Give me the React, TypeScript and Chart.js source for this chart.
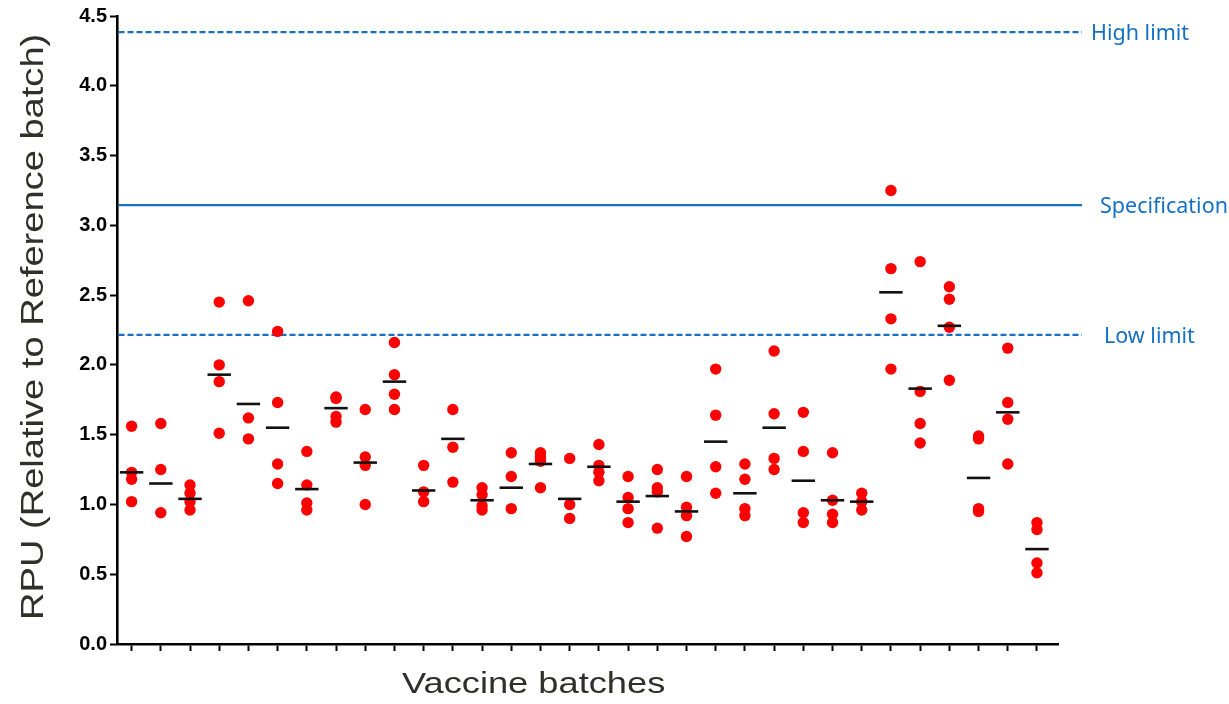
import React, { useEffect, useRef } from 'react';
import { Chart, registerables } from 'chart.js';

Chart.register(...registerables);

// ---- data ----
const BATCHES = [
  'B01', 'B02', 'B03', 'B04', 'B05', 'B06', 'B07', 'B08', 'B09', 'B10', 'B11',
  'B12', 'B13', 'B14', 'B15', 'B16', 'B17', 'B18', 'B19', 'B20', 'B21', 'B22',
  'B23', 'B24', 'B25', 'B26', 'B27', 'B28', 'B29', 'B30', 'B31', 'B32',
];
const REP_A = [1.56, 1.58, 1.14, 2.45, 2.46, 2.24, 1.38, 1.77, 1.68, 2.16, 1.28, 1.68, 1.12, 1.37, 1.37, 1.33, 1.43, 1.20, 1.25, 1.20, 1.97, 1.29, 2.10, 1.66, 1.37, 1.08, 3.25, 2.74, 2.56, 1.49, 2.12, 0.87];
const REP_B = [1.23, 1.25, 1.08, 2.00, 1.62, 1.73, 1.14, 1.76, 1.34, 1.93, 1.09, 1.41, 1.07, 1.20, 1.34, 1.00, 1.28, 1.05, 1.12, 0.98, 1.64, 1.18, 1.65, 1.38, 1.03, 1.02, 2.69, 1.81, 2.47, 1.47, 1.73, 0.82];
const REP_C = [1.18, 0.94, 1.02, 1.88, 1.47, 1.29, 1.01, 1.63, 1.28, 1.79, 1.02, 1.16, 0.99, 0.97, 1.31, 0.90, 1.23, 0.97, 1.09, 0.92, 1.27, 0.97, 1.33, 0.94, 0.93, 0.96, 2.33, 1.58, 2.27, 0.97, 1.61, 0.58];
const REP_D = [1.02, null, 0.96, 1.51, null, 1.15, 0.96, 1.59, 1.00, 1.68, null, null, 0.96, null, 1.12, null, 1.17, 0.87, 0.83, 0.77, 1.08, 0.92, 1.25, 0.87, 0.87, null, 1.97, 1.44, 1.89, 0.95, 1.29, 0.51];
const MEANS = [1.23, 1.15, 1.04, 1.93, 1.72, 1.55, 1.11, 1.69, 1.30, 1.88, 1.10, 1.47, 1.03, 1.12, 1.29, 1.04, 1.27, 1.02, 1.06, 0.95, 1.45, 1.08, 1.55, 1.17, 1.03, 1.02, 2.52, 1.83, 2.28, 1.19, 1.66, 0.68];

const REF_NAMES = ['High limit', 'Specification', 'Low limit'];
const REF_VALUES = [4.385, 3.145, 2.215];
const REF_DASHED = [true, false, true];

const Y_TICKS = [0, 0.5, 1, 1.5, 2, 2.5, 3, 3.5, 4, 4.5];

const X_TITLE = 'Vaccine batches';
const Y_TITLE = 'RPU (Relative to Reference batch)';

// ---- styles ----
const BLUE = '#1570C4';
const RED = '#FF0000';
const TITLE_COLOR = '#30302a';
const SANS = "'Liberation Sans', Arial, sans-serif";
const LABEL_OFFSETS = [33, 42, 46];

function drawStretched(ctx: CanvasRenderingContext2D, text: string, x: number, y: number, font: string, stretch: number, rotate: boolean) {
  ctx.save();
  ctx.font = font;
  ctx.textAlign = 'left';
  ctx.textBaseline = 'alphabetic';
  ctx.fillStyle = TITLE_COLOR;
  ctx.translate(x, y);
  if (rotate) ctx.rotate(-Math.PI / 2);
  ctx.scale(stretch, 1);
  ctx.fillText(text, 0, 0);
  ctx.restore();
}

const refPlugin = {
  id: 'refLines',
  beforeDatasetsDraw(chart: any) {
    const { ctx, chartArea, scales } = chart;
    const y = scales.y;
    ctx.save();
    ctx.strokeStyle = BLUE;
    ctx.lineWidth = 2.3;
    REF_VALUES.forEach((v, i) => {
      const py = y.getPixelForValue(v);
      ctx.setLineDash(REF_DASHED[i] ? [6, 3] : []);
      ctx.beginPath();
      ctx.moveTo(chartArea.left + 1.5, py);
      ctx.lineTo(chartArea.right + 24, py);
      ctx.stroke();
    });
    ctx.restore();
  },
  afterDraw(chart: any) {
    const { ctx, chartArea, scales } = chart;
    const y = scales.y;
    ctx.save();
    ctx.fillStyle = BLUE;
    ctx.font = "21.5px 'Noto Sans', sans-serif";
    ctx.textAlign = 'left';
    ctx.textBaseline = 'alphabetic';
    REF_VALUES.forEach((v, i) => {
      const py = y.getPixelForValue(v);
      ctx.fillText(REF_NAMES[i], chartArea.right + LABEL_OFFSETS[i], py + 8);
    });
    ctx.restore();
    drawStretched(ctx, X_TITLE, 402, 693, `29px ${SANS}`, 1.25, false);
    drawStretched(ctx, Y_TITLE, 43, 620, `32px ${SANS}`, 1.19, true);
  },
};

export default function App() {
  const ref = useRef<HTMLCanvasElement | null>(null);

  useEffect(() => {
    document.body.style.margin = '0';
    const canvas = ref.current;
    if (!canvas) return;

    const reps = [REP_A, REP_B, REP_C, REP_D];
    const dots: { x: number; y: number }[] = [];
    BATCHES.forEach((_, i) => {
      reps.forEach((r) => {
        const v = r[i];
        if (v !== null && v !== undefined) dots.push({ x: i, y: v });
      });
    });
    const means = BATCHES.map((_, i) => ({ x: i, y: MEANS[i] }));

    const chart = new Chart(canvas, {
      type: 'scatter',
      data: {
        datasets: [
          {
            label: 'Mean',
            data: means,
            pointStyle: 'line',
            pointRadius: 11.7,
            pointHoverRadius: 11.7,
            pointBorderWidth: 2.6,
            pointBorderColor: '#111111',
            pointBackgroundColor: '#111111',
            showLine: false,
            order: 0,
          } as any,
          {
            label: 'Replicates',
            data: dots,
            pointStyle: 'circle',
            pointRadius: 5.7,
            pointHoverRadius: 5.7,
            pointBorderWidth: 0,
            pointBackgroundColor: RED,
            pointBorderColor: RED,
            showLine: false,
            order: 1,
          } as any,
        ],
      },
      options: {
        responsive: false,
        animation: false,
        events: [],
        layout: { padding: { left: 0, top: 16, right: 171, bottom: 0 } },
        plugins: {
          legend: { display: false },
          tooltip: { enabled: false },
        },
        scales: {
          x: {
            type: 'linear',
            min: -0.5,
            max: 31.72,
            afterBuildTicks: (scale: any) => {
              scale.ticks = BATCHES.map((_, i) => ({ value: i }));
            },
            afterFit: (scale: any) => {
              scale.height = 60;
            },
            ticks: { display: false },
            grid: {
              drawOnChartArea: false,
              drawTicks: true,
              tickLength: 7,
              tickWidth: 2,
              tickColor: '#000',
              color: '#000',
            },
            border: { display: true, color: '#000', width: 2.6 },
          },
          y: {
            type: 'linear',
            min: 0,
            max: 4.5,
            afterBuildTicks: (scale: any) => {
              scale.ticks = Y_TICKS.map((v) => ({ value: v }));
            },
            afterFit: (scale: any) => {
              scale.width = 117;
            },
            ticks: {
              color: '#000',
              padding: 3,
              font: { family: SANS, size: 20, weight: 'bold' },
              callback: (v: any) => Number(v).toFixed(1),
            },
            grid: {
              drawOnChartArea: false,
              drawTicks: true,
              tickLength: 7,
              tickWidth: 2,
              tickColor: '#000',
              color: '#000',
            },
            border: { display: true, color: '#000', width: 2.6 },
          },
        },
      } as any,
      plugins: [refPlugin],
    });

    return () => chart.destroy();
  }, []);

  return (
    <div style={{ width: 1229, height: 704, position: 'relative', overflow: 'hidden' }}>
      <canvas ref={ref} width={1229} height={704} style={{ display: 'block' }} />
    </div>
  );
}
